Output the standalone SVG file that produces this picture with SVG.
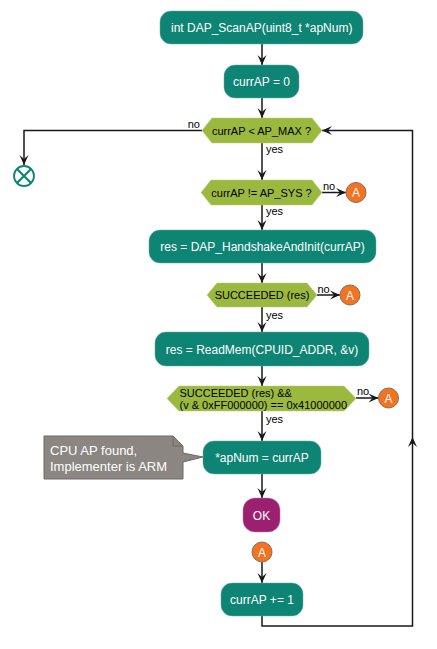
<svg xmlns="http://www.w3.org/2000/svg" width="437" height="649" viewBox="0 0 437 649">
<style>
text{font-family:"Liberation Sans",Arial,sans-serif}
.act{fill:#0E8474;stroke:#5FAE9F;stroke-width:0.5}
.at{fill:#FFFFFF;font-size:12px;text-anchor:middle}
.dia{fill:#9BB83F;stroke:#B5CD72;stroke-width:0.5}
.dt{fill:#000000;font-size:11px;text-anchor:middle}
.dl{fill:#000000;font-size:11px;text-anchor:start}
.lbl{fill:#000000;font-size:11px}
.con{fill:#F47320;stroke:#8A6E60;stroke-width:1}
.ct{fill:#FFFFFF;font-size:12px;text-anchor:middle}
.ln{fill:none;stroke:#181818;stroke-width:1.5}
.ah{fill:#181818}
</style>
<defs>
<marker id="arr" markerUnits="userSpaceOnUse" markerWidth="12" markerHeight="10" viewBox="-11 -5 12 10" refX="0" refY="0" orient="auto">
<path d="M0,0 L-10,-4.5 L-6,0 L-10,4.5 Z" fill="#181818"/>
</marker>
</defs>
<g id="connectors">
<path class="ln" d="M262,44 L262,65" marker-end="url(#arr)"/>
<path class="ln" d="M262,98 L262,118" marker-end="url(#arr)"/>
<path class="ln" d="M262,143 L262,180" marker-end="url(#arr)"/>
<path class="ln" d="M262,205 L262,230" marker-end="url(#arr)"/>
<path class="ln" d="M262,263 L262,283" marker-end="url(#arr)"/>
<path class="ln" d="M262,307 L262,332" marker-end="url(#arr)"/>
<path class="ln" d="M262,366 L262,386" marker-end="url(#arr)"/>
<path class="ln" d="M262,411 L262,441" marker-end="url(#arr)"/>
<path class="ln" d="M262,474 L262,498" marker-end="url(#arr)"/>
<path class="ln" d="M262,562 L262,583" marker-end="url(#arr)"/>
<path class="ln" d="M202,130.5 L24,130.5 L24,165" marker-end="url(#arr)"/>
<path class="ln" d="M322,192.5 L346,192.5" marker-end="url(#arr)"/>
<path class="ln" d="M317,295 L340,295" marker-end="url(#arr)"/>
<path class="ln" d="M356,398 L378.5,398" marker-end="url(#arr)"/>
<path class="ln" d="M262,616 L262,626 L412.5,626 L412.5,130.5 L322,130.5" marker-end="url(#arr)"/>
<path class="ah" d="M412.5,437 L417,447 L412.5,443 L408,447 Z"/>
<text class="lbl" x="200" y="128" text-anchor="end">no</text>
<text class="lbl" x="266" y="153">yes</text>
<text class="lbl" x="323" y="189.5">no</text>
<text class="lbl" x="266" y="215">yes</text>
<text class="lbl" x="317.5" y="292.5">no</text>
<text class="lbl" x="266" y="318.5">yes</text>
<text class="lbl" x="357" y="395">no</text>
<text class="lbl" x="266" y="423">yes</text>
</g>
<g id="start">
<rect class="act" x="160" y="11" width="203" height="33" rx="11" ry="11"/>
<text class="at" x="261.7" y="32">int DAP_ScanAP(uint8_t *apNum)</text>
</g>
<g id="init">
<rect class="act" x="224" y="65" width="75" height="33" rx="11" ry="11"/>
<text class="at" x="261.5" y="86">currAP = 0</text>
</g>
<g id="cond-max">
<polygon class="dia" points="202,130.5 212,118 312,118 322,130.5 312,143 212,143"/>
<text class="dt" x="261.5" y="134.5">currAP &lt; AP_MAX ?</text>
</g>
<g id="end">
<circle cx="24" cy="176" r="10" fill="#FFFFFF" stroke="#0E8474" stroke-width="1.8"/>
<path d="M17,169 L31,183 M31,169 L17,183" stroke="#0E8474" stroke-width="2.2"/>
</g>
<g id="cond-sys">
<polygon class="dia" points="201,192.5 211,180 312,180 322,192.5 312,205 211,205"/>
<text class="dt" x="261.5" y="196.5">currAP != AP_SYS ?</text>
</g>
<g id="a1">
<circle class="con" cx="356" cy="192.5" r="10"/>
<text class="ct" x="356" y="197">A</text>
</g>
<g id="handshake">
<rect class="act" x="149" y="230" width="227" height="33" rx="11" ry="11"/>
<text class="at" x="262.5" y="251">res = DAP_HandshakeAndInit(currAP)</text>
</g>
<g id="cond-res1">
<polygon class="dia" points="207,295 217,283 307,283 317,295 307,307 217,307"/>
<text class="dt" x="262" y="299">SUCCEEDED (res)</text>
</g>
<g id="a2">
<circle class="con" cx="350" cy="295" r="10"/>
<text class="ct" x="350" y="299.5">A</text>
</g>
<g id="readmem">
<rect class="act" x="155" y="332" width="214" height="34" rx="11" ry="11"/>
<text class="at" x="262" y="353.5">res = ReadMem(CPUID_ADDR, &amp;v)</text>
</g>
<g id="cond-res2">
<polygon class="dia" points="167,398.5 179,386 344,386 356,398.5 344,411 179,411"/>
<text class="dl" x="179.5" y="396.5">SUCCEEDED (res) &amp;&amp;</text>
<text class="dl" x="179.5" y="408.5">(v &amp; 0xFF000000) == 0x41000000</text>
</g>
<g id="a3">
<circle class="con" cx="388.5" cy="398" r="10"/>
<text class="ct" x="388.5" y="402.5">A</text>
</g>
<g id="note">
<polygon points="44,436 173,436 183,446 183,453 203,457 183,462 183,479 44,479" fill="#8B8681" stroke="#6E6A66" stroke-width="1"/>
<path d="M173,436 L173,446 L183,446" fill="none" stroke="#6E6A66" stroke-width="1"/>
<text x="50" y="455" fill="#FFFFFF" font-size="13px">CPU AP found,</text>
<text x="50" y="470.5" fill="#FFFFFF" font-size="13px">Implementer is ARM</text>
</g>
<g id="apnum">
<rect class="act" x="203" y="441" width="118" height="33" rx="11" ry="11"/>
<text class="at" x="262" y="462">*apNum = currAP</text>
</g>
<g id="ok">
<rect x="243" y="498" width="37" height="34" rx="12" ry="12" fill="#9C2070" stroke="#C27AA6" stroke-width="0.5"/>
<text class="at" x="261.5" y="519.5">OK</text>
</g>
<g id="a4">
<circle class="con" cx="262" cy="552" r="10"/>
<text class="ct" x="262" y="556.5">A</text>
</g>
<g id="incr">
<rect class="act" x="221" y="583" width="82" height="33" rx="11" ry="11"/>
<text class="at" x="262" y="604">currAP += 1</text>
</g>
</svg>
